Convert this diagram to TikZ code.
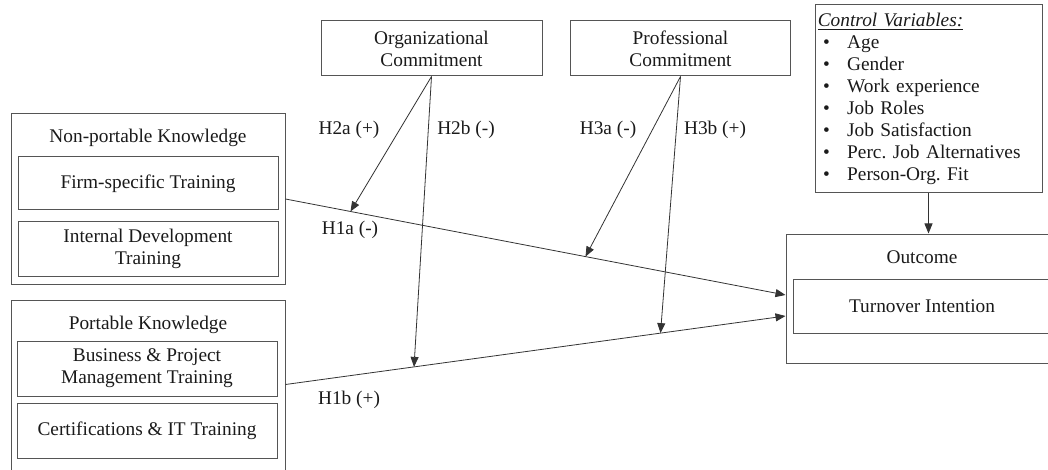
\documentclass[tikz,border=0pt]{standalone}
\usepackage{fontspec}
\setmainfont{Liberation Serif}
\usetikzlibrary{arrows.meta,calc}
\definecolor{edgegray}{HTML}{555555}
\definecolor{inkgray}{HTML}{1A1A1A}
\definecolor{wiregray}{HTML}{333333}
\frenchspacing
\begin{document}
\begin{tikzpicture}[x=0.75pt,y=-0.75pt,
  every node/.style={text=inkgray,font=\fontsize{14.5}{16.5}\selectfont},
  box/.style={draw=edgegray,line width=0.75pt,inner sep=0pt,align=center},
  wire/.style={draw=wiregray,line width=0.6pt,-{Triangle[length=7.5pt,width=6pt]}},
  caption/.style={inner sep=0pt,align=center}]
\useasboundingbox (0,0) rectangle (1048,470);

% knowledge groups on the left
\node[box,minimum width=205.5pt,minimum height=127.5pt] (np) at (148,199) {};
\node[caption] (npt) at (148,138) {Non-portable Knowledge};
\node[box,minimum width=195pt,minimum height=39.75pt] (fst) at (148,183.5) {Firm-specific Training};
\node[box,minimum width=195pt,minimum height=40.5pt] (idt) at (148,249) {Internal Development\\Training};

\node[box,minimum width=205.5pt,minimum height=132pt] (pk) at (148,388) {};
\node[caption] (pkt) at (148,325) {Portable Knowledge};
\node[box,minimum width=195pt,minimum height=41.25pt] (bpm) at (147,368.5) {Business \& Project\\Management Training};
\node[box,minimum width=195pt,minimum height=41.25pt] (cit) at (147,430.5) {Certifications \& IT Training};

% moderators
\node[box,minimum width=165.75pt,minimum height=41.25pt] (org) at (431.5,48.5) {Organizational\\Commitment};
\node[box,minimum width=165pt,minimum height=41.25pt] (pro) at (680.5,48.5) {Professional\\Commitment};

% control variables
\node[box,minimum width=170.25pt,minimum height=141pt,text width=166pt,align=left] (ctrl) at (928.5,99) {%
  \underline{\itshape Control Variables:}\\
  \hspace*{4pt}\makebox[18pt][l]{\textbullet}Age\\
  \hspace*{4pt}\makebox[18pt][l]{\textbullet}Gender\\
  \hspace*{4pt}\makebox[18pt][l]{\textbullet}Work experience\\
  \hspace*{4pt}\makebox[18pt][l]{\textbullet}Job Roles\\
  \hspace*{4pt}\makebox[18pt][l]{\textbullet}Job Satisfaction\\
  \hspace*{4pt}\makebox[18pt][l]{\textbullet}Perc. Job Alternatives\\
  \hspace*{4pt}\makebox[18pt][l]{\textbullet}Person-Org. Fit};

% outcome
\node[box,minimum width=204pt,minimum height=96.75pt] (outc) at (922,298.5) {};
\node[caption] (outt) at (922,257) {Outcome};
\node[box,minimum width=193.5pt,minimum height=40.5pt] (ti) at (922,306) {Turnover Intention};

% connector end points
\coordinate (srcA) at (np.east);
\coordinate (srcB) at ($(pk.north east)+(0,85)$);
\coordinate (inA) at ($(outc.west)+(0,-3.5)$);
\coordinate (inB) at ($(outc.west)+(0,17.5)$);
\coordinate (m2a) at ($(srcA)!0.13!(inA)$);
\coordinate (m3a) at ($(srcA)!0.6!(inA)$);
\coordinate (m2b) at ($(srcB)!0.257!(inB)$);
\coordinate (m3b) at ($(srcB)!0.75!(inB)$);

% main effects
\draw[wire] (srcA) -- (inA);
\draw[wire] (srcB) -- (inB);
% moderation effects
\draw[wire] (org.south) -- (m2a);
\draw[wire] (org.south) -- (m2b);
\draw[wire] (pro.south) -- (m3a);
\draw[wire] (pro.south) -- (m3b);
% controls
\draw[wire] (ctrl.south) -- (ctrl.south |- outc.north);

% hypothesis labels
\node[caption] (h2a) at (349,130) {H2a (+)};
\node[caption] (h2b) at (466,130) {H2b (-)};
\node[caption] (h3a) at (608,130) {H3a (-)};
\node[caption] (h3b) at (715,130) {H3b (+)};
\node[caption] (h1a) at (350,230) {H1a (-)};
\node[caption] (h1b) at (349,400) {H1b (+)};
\end{tikzpicture}
\end{document}
